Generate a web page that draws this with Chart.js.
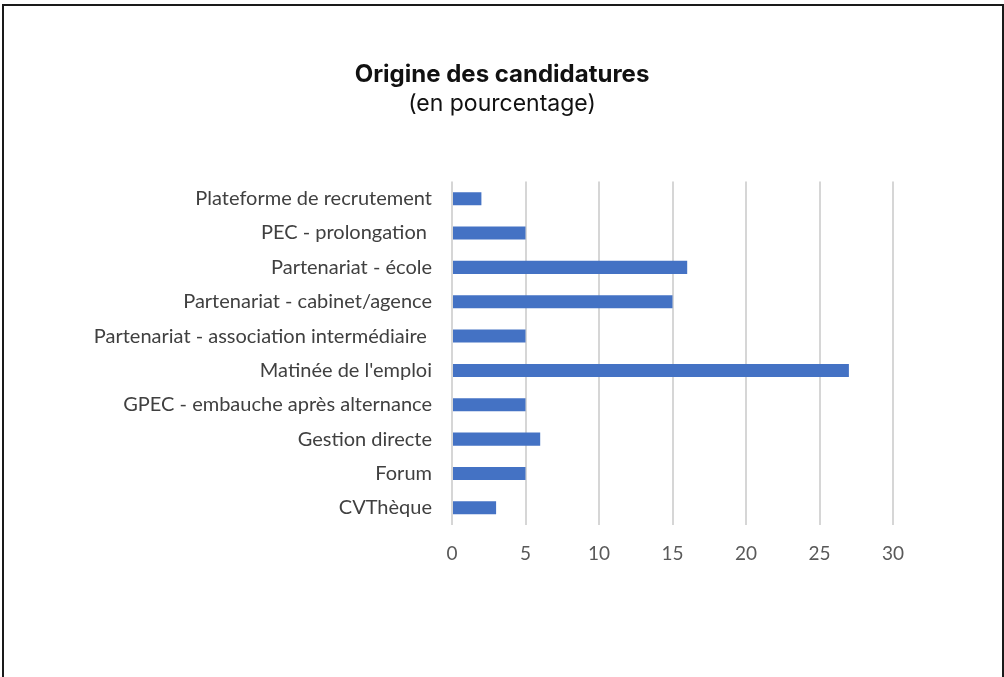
<!DOCTYPE html>
<html lang="fr">
<head>
    <meta charset="UTF-8">
    <title>Origine des candidatures</title>
    <script src="https://cdn.jsdelivr.net/npm/chart.js"></script>
    <style>
        html, body { margin: 0; padding: 0; background: #fff; }
        .frame {
            position: absolute;
            left: 2px; top: 4px;
            width: 998px; height: 673px;
            border-left: 2px solid #1a1a1a;
            border-top: 2px solid #1a1a1a;
            border-right: 2px solid #1a1a1a;
        }
        .wrap { position: absolute; left: 0; top: 0; width: 1004px; height: 677px; }
    </style>
</head>
<body>
    <div class="frame"></div>
    <div class="wrap"><canvas id="chart" width="1004" height="677"></canvas></div>

    <script>
        // Données (en pourcentage), de haut en bas
        const categories = [
            'Plateforme de recrutement',
            'PEC - prolongation ',
            'Partenariat - école',
            'Partenariat - cabinet/agence',
            'Partenariat - association intermédiaire ',
            "Matinée de l'emploi",
            'GPEC - embauche après alternance',
            'Gestion directe',
            'Forum',
            'CVThèque'
        ];
        const values = [2, 5, 16, 15, 5, 27, 5, 6, 5, 3];
        const xTicks = [0, 5, 10, 15, 20, 25, 30];

        const ctx = document.getElementById('chart').getContext('2d');
        new Chart(ctx, {
            type: 'bar',
            data: {
                labels: categories,
                datasets: [{
                    data: values,
                    backgroundColor: '#4472C4',
                    categoryPercentage: 1,
                    barPercentage: 0.38
                }]
            },
            options: {
                indexAxis: 'y',
                responsive: false,
                animation: false,
                layout: { padding: { left: 0, right: 0, top: 0, bottom: 112 } },
                plugins: {
                    legend: { display: false },
                    tooltip: { enabled: false },
                    title: {
                        display: true,
                        text: 'Origine des candidatures',
                        color: '#111',
                        font: { family: 'Inter', size: 24, weight: 'bold' },
                        padding: { top: 60.6, bottom: 0 }
                    },
                    subtitle: {
                        display: true,
                        text: '(en pourcentage)',
                        color: '#111',
                        font: { family: 'Inter', size: 23 },
                        padding: { top: 0.5, bottom: 64 }
                    }
                },
                scales: {
                    x: {
                        min: 0,
                        max: 30,
                        afterBuildTicks: s => { s.ticks = xTicks.map(v => ({ value: v })); },
                        afterFit: s => { s.height = 40; },
                        grid: { color: '#d6d6d6', lineWidth: 2, drawTicks: false },
                        border: { display: false },
                        ticks: {
                            color: '#595959',
                            font: { family: 'Lato', size: 19 },
                            padding: 17
                        }
                    },
                    y: {
                        afterFit: s => { s.width = 452; },
                        grid: { display: false, drawTicks: false },
                        border: { display: false },
                        ticks: {
                            color: '#404040',
                            font: { family: 'Lato', size: 20 },
                            padding: 20
                        }
                    },
                    // axe vide à droite : réserve la marge droite
                    yRight: {
                        axis: 'y',
                        position: 'right',
                        afterFit: s => { s.width = 111; },
                        grid: { display: false, drawTicks: false },
                        border: { display: false },
                        ticks: { display: false }
                    }
                }
            }
        });
    </script>
</body>
</html>
